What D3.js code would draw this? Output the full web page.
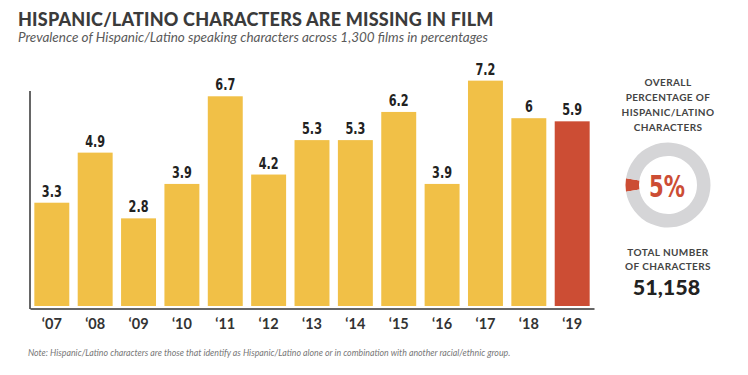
<!DOCTYPE html>
<html>
<head>
<meta charset="utf-8">
<script src="https://d3js.org/d3.v7.min.js"></script>
<style>
  body { margin: 0; background: #fff; }
  svg { display: block; }
</style>
</head>
<body>
<svg width="748" height="375"></svg>
<script>
// data
const years = ["‘07", "‘08", "‘09", "‘10", "‘11", "‘12", "‘13", "‘14", "‘15", "‘16", "‘17", "‘18", "‘19"];
const values = [3.3, 4.9, 2.8, 3.9, 6.7, 4.2, 5.3, 5.3, 6.2, 3.9, 7.2, 6, 5.9];
const highlightYear = "‘19";
const overallShare = [5, 95];   // hispanic/latino vs everyone else
const overallLabel = ["OVERALL", "PERCENTAGE OF", "HISPANIC/LATINO", "CHARACTERS"];
const totalLabel = ["TOTAL NUMBER", "OF CHARACTERS"];
const totalCharacters = 51158;

const title = "HISPANIC/LATINO CHARACTERS ARE MISSING IN FILM";
const subtitle = "Prevalence of Hispanic/Latino speaking characters across 1,300 films in percentages";
const note = "Note: Hispanic/Latino characters are those that identify as Hispanic/Latino alone or in combination with another racial/ethnic group.";

const yellow = "#f1c047", red = "#cc4d34";
// no condensed face installed, so squeeze DejaVu Sans horizontally
const condensed = "'DejaVu Sans Condensed', 'DejaVu Sans', sans-serif";
const squeeze = 0.76;

const svg = d3.select("svg");

// titles
svg.append("text")
    .attr("x", 18).attr("y", 26)
    .style("font-family", "Lato").style("font-weight", 900)
    .style("font-size", "18px").style("letter-spacing", "0.2px").style("fill", "#3b3b3b")
    .text(title);
svg.append("text")
    .attr("x", 18).attr("y", 42)
    .style("font-family", "Lato").style("font-style", "italic")
    .style("font-size", "13.5px").style("fill", "#5a5a5a")
    .text(subtitle);

// bars
const x = d3.scaleBand()
    .domain(years)
    .range([30, 594])
    .paddingInner(0.194)
    .paddingOuter(0.1);

const y = d3.scaleLinear()
    .domain([0, 8])
    .range([306, 55.6]);

const g = svg.append("g");

g.selectAll(".bar")
    .data(values)
    .enter().append("rect")
    .attr("class", "bar")
    .attr("x", (d, i) => x(years[i]))
    .attr("y", d => y(d))
    .attr("width", x.bandwidth())
    .attr("height", d => y(0) - y(d))
    .style("fill", (d, i) => years[i] === highlightYear ? red : yellow);

g.selectAll(".val")
    .data(values)
    .enter().append("text")
    .attr("class", "val")
    .attr("transform", (d, i) => "translate(" + (x(years[i]) + x.bandwidth() / 2) + "," + (y(d) - 6) + ") scale(" + squeeze + ",1)")
    .attr("text-anchor", "middle")
    .style("font-family", condensed).style("font-weight", "bold")
    .style("font-size", "16.5px").style("fill", "#222")
    .text(d => String(d));

// axes lines
const xAxis = d3.axisBottom(x).tickSize(0).tickPadding(10);
g.append("g")
    .attr("class", "x-axis")
    .attr("transform", "translate(0,308.5)")
    .call(xAxis)
    .call(a => a.select(".domain").attr("stroke", "#333").attr("stroke-width", 1.5))
    .call(a => a.selectAll("text")
        .style("font-family", "Lato").style("font-weight", "bold")
        .style("font-size", "14.5px").style("fill", "#333"));

const yAxis = d3.axisLeft(y).tickValues([]).tickSizeOuter(0);
g.append("g")
    .attr("class", "y-axis")
    .attr("transform", "translate(30,0)")
    .call(yAxis)
    .call(a => a.select(".domain")
        .attr("d", "M0," + (y(0) + 3) + "V91")
        .attr("stroke", "#333").attr("stroke-width", 1.5));

// note
svg.append("text")
    .attr("x", 28).attr("y", 356)
    .style("font-family", "Lato").style("font-style", "italic")
    .style("font-size", "8.8px").style("fill", "#777")
    .text(note);

// right panel
const cx = 668;
const side = svg.append("g");

side.selectAll(".ol")
    .data(overallLabel)
    .enter().append("text")
    .attr("class", "ol")
    .attr("x", cx).attr("y", (d, i) => 86 + i * 15)
    .attr("text-anchor", "middle")
    .style("font-family", "Lato").style("font-weight", "bold")
    .style("font-size", "10px").style("letter-spacing", "0.4px").style("fill", "#444")
    .text(d => d);

const pie = d3.pie().sort(null)
    .startAngle(-Math.PI / 2 - Math.PI * 0.05)
    .endAngle(1.5 * Math.PI - Math.PI * 0.05);
const arc = d3.arc().innerRadius(29).outerRadius(42.5);

side.append("g")
    .attr("transform", "translate(" + cx + ",185)")
    .selectAll("path")
    .data(pie(overallShare))
    .enter().append("path")
    .attr("d", arc)
    .style("fill", (d, i) => i === 0 ? red : "#d5d5d7");

side.append("text")
    .attr("transform", "translate(" + (cx - 1) + ",196.5) scale(" + squeeze + ",1)")
    .attr("text-anchor", "middle")
    .style("font-family", condensed).style("font-weight", "bold")
    .style("font-size", "31px").style("fill", red)
    .text(overallShare[0] + "%");

side.selectAll(".tl")
    .data(totalLabel)
    .enter().append("text")
    .attr("class", "tl")
    .attr("x", cx).attr("y", (d, i) => 256 + i * 14)
    .attr("text-anchor", "middle")
    .style("font-family", "Lato").style("font-weight", "bold")
    .style("font-size", "10px").style("letter-spacing", "0.4px").style("fill", "#444")
    .text(d => d);

side.append("text")
    .attr("x", 666.5).attr("y", 295)
    .attr("text-anchor", "middle")
    .style("font-family", "Lato").style("font-weight", 900)
    .style("font-size", "21.5px").style("fill", "#222")
    .text(d3.format(",")(totalCharacters));
</script>
</body>
</html>
